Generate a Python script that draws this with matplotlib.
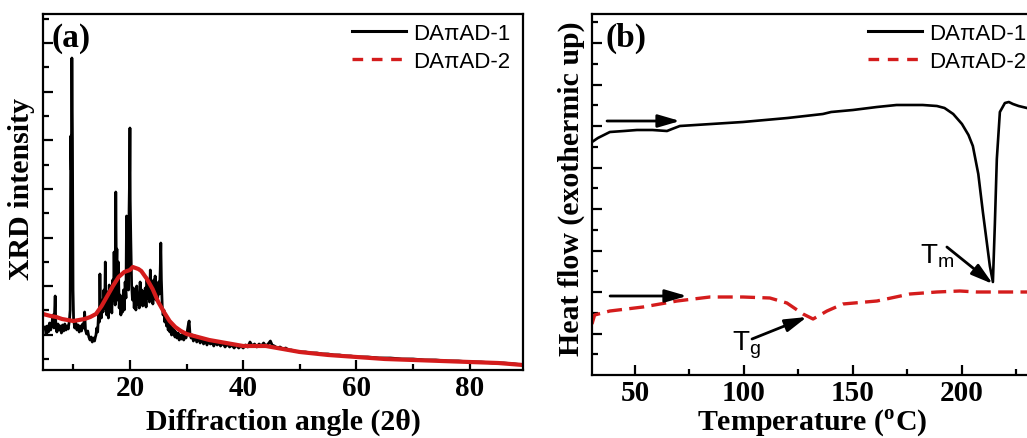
import matplotlib
matplotlib.use("Agg")
import matplotlib.pyplot as plt
from matplotlib.lines import Line2D
from matplotlib.ticker import FixedLocator

plt.rcParams['font.family'] = ['Liberation Serif', 'DejaVu Serif']
plt.rcParams['mathtext.fontset'] = 'custom'
plt.rcParams['mathtext.rm'] = 'Liberation Serif:bold'
plt.rcParams['mathtext.bf'] = 'Liberation Serif:bold'
plt.rcParams['mathtext.sf'] = 'Liberation Sans'

# ---------------- data: (a) XRD ----------------
xrd1_angle = [5.0, 5.2, 5.4, 5.6, 5.8, 6.0, 6.2, 6.4, 6.6, 6.8, 6.9, 7.1, 7.3, 7.5, 7.7, 7.9,
              8.1, 8.3, 8.5, 8.7, 8.9, 9.1, 9.3, 9.45, 9.55, 9.65, 9.75, 9.85, 9.95, 10.05,
              10.25, 10.45, 10.65, 10.85, 11.05, 11.25, 11.45, 11.65, 11.85, 12.0, 12.15, 12.35,
              12.55, 12.75, 12.95, 13.15, 13.35, 13.55, 13.75, 13.9,
              14.0, 14.15, 14.3, 14.45, 14.6, 14.7, 14.8, 14.95, 15.1, 15.25, 15.4, 15.55, 15.65,
              15.75, 15.9, 16.05, 16.2, 16.35, 16.5, 16.65, 16.8, 16.95, 17.1, 17.2, 17.3, 17.4,
              17.5, 17.6, 17.7, 17.8, 17.95, 18.1, 18.25, 18.4, 18.55, 18.7, 18.85, 19.0, 19.15,
              19.3, 19.4, 19.5, 19.65, 19.75, 19.85, 19.95, 20.0, 20.05, 20.15, 20.3, 20.45, 20.6,
              20.75, 20.9, 21.05, 21.2, 21.35, 21.5, 21.65, 21.8, 21.95, 22.1, 22.25, 22.4, 22.55,
              22.7, 22.85, 23.0, 23.15, 23.3, 23.45, 23.6, 23.75, 23.9, 24.05, 24.2, 24.35, 24.45,
              24.6, 24.75, 24.9, 25.05, 25.2, 25.35, 25.45, 25.55, 25.7, 25.85, 26.0, 26.15, 26.3,
              26.45, 26.6, 26.75, 26.9, 27.05, 27.2, 27.35, 27.5, 27.65, 27.8, 27.95, 28.1, 28.3,
              28.5, 28.7, 28.9, 29.1, 29.3, 29.5, 29.7, 29.9, 30.1, 30.3, 30.45, 30.6, 30.8, 31.0,
              31.2, 31.5, 31.8, 32.1, 32.4, 32.7, 33.0, 33.3, 33.6, 33.9, 34.2, 34.5, 34.8, 35.1,
              35.4, 35.7, 36.0, 36.4, 36.8, 37.2, 37.6, 38.0, 38.4, 38.8, 39.2, 39.6, 40.0, 40.4,
              40.8, 41.2, 41.6, 42.0, 42.4, 42.8, 43.2, 43.6, 44.0, 44.4, 44.8, 45.1, 45.5, 46.0,
              46.5, 47.0, 47.5, 48.0, 48.5, 49.0, 50, 51, 52, 53, 54, 55, 56, 57, 58, 59, 60, 62,
              64, 66, 68, 70, 72, 74, 76, 78, 80, 82, 84, 86, 88, 89.4]
xrd1_int = [43, 36, 44, 38, 47, 40, 45, 55, 42, 74, 48, 38, 46, 40, 44, 37,
            45, 39, 46, 40, 44, 41, 49, 60, 234, 200, 312, 231, 80, 51,
            42, 47, 40, 45, 38, 44, 39, 46, 42, 58, 40, 36,
            39, 33, 30, 33, 28, 32, 29, 33,
            35, 42, 38, 55, 48, 96, 60, 52, 70, 58, 80, 62, 108,
            70, 55, 78, 52, 85, 60, 74, 57, 90, 70, 118, 80, 65,
            178, 95, 121, 70, 108, 62, 75, 55, 68, 58, 80, 60, 88,
            72, 154, 90, 120, 80, 161, 200, 242, 170, 131, 85, 70, 82,
            62, 78, 60, 84, 66, 76, 62, 88, 68, 80, 64, 78, 66,
            82, 63, 92, 72, 85, 68, 100, 74, 83, 66, 90, 78, 94,
            70, 84, 72, 88, 76, 100, 127, 90, 64, 55, 60, 48, 56,
            44, 50, 40, 46, 38, 44, 35, 42, 36, 40, 33, 38, 32,
            37, 30, 35, 31, 36, 30, 34, 32, 38, 45, 49, 36, 32, 35,
            29, 34, 28, 32, 27, 31, 26, 30, 25, 29, 26, 28, 24, 28,
            25, 27, 24, 27, 23, 26, 23, 25, 22, 25, 22, 24, 22, 25,
            23, 28, 24, 26, 23, 26, 24, 27, 24, 26, 29, 25, 24, 22,
            23, 21, 22, 20, 20, 19, 18, 18, 17, 17, 16, 16, 15, 15, 14, 14, 13, 13,
            12, 12, 11, 11, 10, 10, 9, 9, 8, 8, 7, 7, 6, 5]

xrd2_angle = [4.65, 6, 7, 8, 9, 10, 11, 12, 13, 14, 15, 16, 17, 18, 19, 20, 20.5, 21, 21.5, 22,
              23, 24, 25, 26, 27, 28, 29, 30, 32, 34, 36, 38, 40, 42, 44, 46, 48, 50, 55, 60,
              65, 70, 75, 80, 85, 89.4]
xrd2_int = [56, 54, 53, 51, 50, 49, 50, 51, 53, 56, 64, 74, 84, 93, 98, 100, 103, 102, 101, 99,
            91, 81, 68, 58, 49, 43, 39, 36, 33, 30, 28, 26, 24, 24, 24, 22, 20, 18, 15, 13,
            11, 10, 9, 8, 7, 5]

# ---------------- data: (b) DSC ----------------
dsc1_temp = [30.3, 33, 38.5, 45, 50.9, 58, 64.7, 67, 70.6, 85, 99.5, 120, 136.2, 140, 150, 161,
             170, 176.1, 182, 188.5, 192, 196, 200, 203, 205, 207.5, 209.6, 211.5, 212.8, 214.2,
             215.1, 216, 217.4, 219.7, 221.5, 223.4, 226, 229.8, 235]
dsc1_flow = [233, 237, 243, 244, 245, 245, 244, 246, 249, 251, 253, 257, 261, 263, 265, 268,
             270, 270, 270, 269, 267, 261, 251, 240, 229, 201, 163, 131, 109, 93,
             151, 216, 263, 272, 273, 271, 269, 267, 266]

dsc2_temp = [30.3, 31.5, 38.5, 53.7, 69.3, 84.4, 99.5, 111.9, 119.7, 127.1, 131.7, 138.1, 145.4,
             161, 176.1, 188.5, 199, 206.9, 229.8, 235]
dsc2_flow = [51, 60, 64, 68, 74, 78, 78, 77, 72, 61, 56, 64, 71,
             74, 81, 83, 84, 83, 83, 83]

labels = ['DA\u03c0AD-1', 'DA\u03c0AD-2']

BLACK = '#000000'
RED = '#d41c1c'

W, H = 1027, 439
fig = plt.figure(figsize=(W / 100, H / 100), dpi=100)

def px_axes(l, t, r, b):
    return fig.add_axes([l / W, 1 - b / H, (r - l) / W, (b - t) / H])

axA = px_axes(43, 15, 523, 371)
axB = px_axes(592, 15, 1100, 376)

tick_font = dict(family='Liberation Serif', weight='bold', size=21)
LABEL_SIZE = 21.5

for ax in (axA, axB):
    for s in ax.spines.values():
        s.set_linewidth(1.6)
    ax.tick_params(which='both', direction='in', width=1.6, top=False, right=False,
                   labelleft=False)
    ax.tick_params(which='major', length=7, pad=3)
    ax.tick_params(which='minor', length=4)

# ---- (a)
axA.plot(xrd1_angle, xrd1_int, color=BLACK, lw=2.0)
axA.plot(xrd2_angle, xrd2_int, color=RED, lw=3.0)
axA.set_xlim(4.65, 89.4)
axA.set_ylim(0, 356)
axA.set_xticks([20, 40, 60, 80])
axA.xaxis.set_minor_locator(FixedLocator([10, 30, 50, 70, 90]))
axA.yaxis.set_major_locator(FixedLocator([35.3 + 48.6 * k for k in range(7)]))
axA.yaxis.set_minor_locator(FixedLocator([11 + 48.6 * k for k in range(8)]))
axA.set_xticklabels(['20', '40', '60', '80'], fontdict=tick_font)
axA.set_xlabel('Diffraction angle (2\u03b8)', fontsize=LABEL_SIZE, fontweight='bold')
axA.xaxis.set_label_coords(0.5, (371 - 430) / 356)
axA.xaxis.label.set_verticalalignment('baseline')
axA.set_ylabel('XRD intensity', fontsize=LABEL_SIZE, fontweight='bold')
axA.yaxis.set_label_coords((35 - 43) / 480, 0.51)
axA.text(0.018, 0.935, '(a)', transform=axA.transAxes, fontsize=24, fontweight='bold',
         va='center', ha='left')

# ---- (b)
axB.plot(dsc1_temp, dsc1_flow, color=BLACK, lw=1.9)
axB.plot(dsc2_temp, dsc2_flow, color=RED, lw=2.4, linestyle=(0, (4.5, 2.2)))
axB.set_xlim(30.3, 30.3 + 508 / 2.18)
axB.set_ylim(0, 361)
axB.set_xticks([50, 100, 150, 200])
axB.xaxis.set_minor_locator(FixedLocator([75, 125, 175, 225, 250]))
axB.yaxis.set_major_locator(FixedLocator([41.5 * k for k in range(1, 9)]))
axB.yaxis.set_minor_locator(FixedLocator([20.75 + 41.5 * k for k in range(9)]))
axB.set_xticklabels(['50', '100', '150', '200'], fontdict=tick_font)
axB.set_xlabel('Temperature ($^{\\mathbf{o}}$C)', fontsize=LABEL_SIZE, fontweight='bold')
axB.xaxis.set_label_coords((812 - 592) / 508, (376 - 430) / 361)
axB.xaxis.label.set_verticalalignment('baseline')
axB.set_ylabel('Heat flow (exothermic up)', fontsize=LABEL_SIZE, fontweight='bold')
axB.yaxis.set_label_coords((585 - 592) / 508, 0.52)
axB.text(0.026, 0.935, '(b)', transform=axB.transAxes, fontsize=24, fontweight='bold',
         va='center', ha='left')

arrow_kw = dict(arrowstyle='-|>,head_length=1.1,head_width=0.32', color=BLACK, lw=2,
                shrinkA=0, shrinkB=0, mutation_scale=12)
axB.annotate('', xy=(70.7, 254), xytext=(37.2, 254), arrowprops=arrow_kw)
axB.annotate('', xy=(73.9, 79), xytext=(38.6, 79), arrowprops=arrow_kw)
axB.annotate('', xy=(214.2, 91), xytext=(193.1, 128), arrowprops=arrow_kw)
axB.annotate('', xy=(128.9, 58), xytext=(103.7, 36), arrowprops=arrow_kw)
axB.text(180.8, 113, 'T$_{\\mathsf{m}}$', family='Liberation Sans', fontsize=20,
         ha='left', va='baseline')
axB.text(94.5, 26, 'T$_{\\mathsf{g}}$', family='Liberation Sans', fontsize=20,
         ha='left', va='baseline')

# legends
handles = [Line2D([], [], color=BLACK, lw=2.2),
           Line2D([], [], color=RED, lw=2.4, linestyle=(0, (3.2, 2.6)))]
for ax, x0 in ((axA, 352), (axB, 868)):
    ax.legend(handles, labels, loc='upper left', bbox_to_anchor=(x0 / W, 1 - 24 / H),
              bbox_transform=fig.transFigure, frameon=False, borderpad=0,
              borderaxespad=0, handlelength=2.45, handletextpad=0.3, labelspacing=0.3,
              prop=dict(family='Liberation Sans', size=16))

fig.savefig('out.png', dpi=100)
